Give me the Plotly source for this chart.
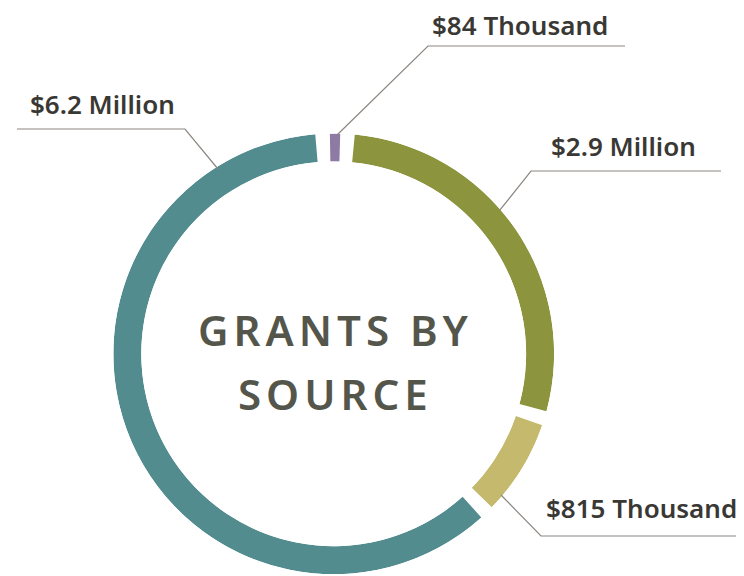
import plotly.graph_objects as go

# ---- data (clockwise from 12 o'clock) ----
labels = ["$84 Thousand", "$2.9 Million", "$815 Thousand", "$6.2 Million"]
values = [0.084, 2.9, 0.815, 6.2]          # millions of USD
colors = ["#8E7BA3", "#8C953E", "#C4B96C", "#528C8F"]
center_lines = ["GRANTS BY", "SOURCE"]

W, H = 744, 576
OFF = 8  # page body margin of the browser
def px(x): return (x - OFF) / W
def py(y): return 1 - (y - OFF) / H

# ---- geometry of the ring ----
gap = 3.8          # degrees of white space between slices
min_arc = 2.7      # smallest visible slice (degrees)
start_angle = -2.9 # boundary of the first slice, degrees clockwise from top

total = sum(values)
arcs = [v / total * 360 for v in values]
eff = [max(a, min_arc + gap) for a in arcs]
fixed = sum(e for e, a in zip(eff, arcs) if e > a)
free = sum(a for e, a in zip(eff, arcs) if e <= a)
scale = (360 - fixed) / free
eff = [e if e > a else a * scale for e, a in zip(eff, arcs)]

centers, widths = [], []
cum = start_angle
for e in eff:
    centers.append(cum + e / 2)
    widths.append(e - gap)
    cum += e

fig = go.Figure()
fig.add_trace(go.Barpolar(
    r=[1] * len(values), theta=centers, width=widths,
    marker=dict(color=colors, line=dict(width=0)),
    text=labels, hoverinfo="text", showlegend=False,
))

cx, cy, R = 333.7, 353.8, 220.4
fig.update_layout(
    width=W, height=H,
    margin=dict(l=0, r=0, t=0, b=0),
    paper_bgcolor="white", plot_bgcolor="white",
    polar=dict(
        domain=dict(x=[px(cx - R), px(cx + R)], y=[py(cy + R), py(cy - R)]),
        hole=0.873,
        bgcolor="rgba(0,0,0,0)",
        angularaxis=dict(visible=False, direction="clockwise", rotation=90),
        radialaxis=dict(visible=False, range=[0, 1]),
    ),
    showlegend=False,
)

# ---- labels with leader lines (label layout, pixel positions) ----
label_font = dict(family="Noto Sans", size=26, color="#3A3834", weight=600)
leaders = [
    # text, text-left x, cap-middle y, path points (ring -> elbow -> end)
    ("$84 Thousand", 431, 25, [(337, 135), (428, 46), (625, 46)]),
    ("$2.9 Million", 550, 146, [(500, 210), (531, 171), (721, 171)]),
    ("$815 Thousand", 545, 508, [(501, 495), (541, 536), (760, 536)]),
    ("$6.2 Million", 29, 104, [(218, 169), (185, 129), (17, 129)]),
]
for text, tx, ty, pts in leaders:
    path = "M " + " L ".join(f"{px(x):.5f},{py(y):.5f}" for x, y in pts)
    fig.add_shape(type="path", path=path, xref="paper", yref="paper",
                  line=dict(color="#8C8681", width=1.2))
    fig.add_annotation(text=text, x=px(tx), y=py(ty), xref="paper", yref="paper",
                       xanchor="left", yanchor="middle", showarrow=False,
                       borderpad=0, font=label_font)

# ---- centre title ----
center_font = dict(family="Noto Sans", size=42, color="#55564B", weight=600)
for line, ymid in zip(center_lines, [329.5, 393.5]):
    fig.add_annotation(
        text=f'<span style="letter-spacing:5px">{line}</span>',
        x=px(cx + 2), y=py(ymid), xref="paper", yref="paper",
        xanchor="center", yanchor="middle", showarrow=False, font=center_font)

fig.write_html("out.html")
